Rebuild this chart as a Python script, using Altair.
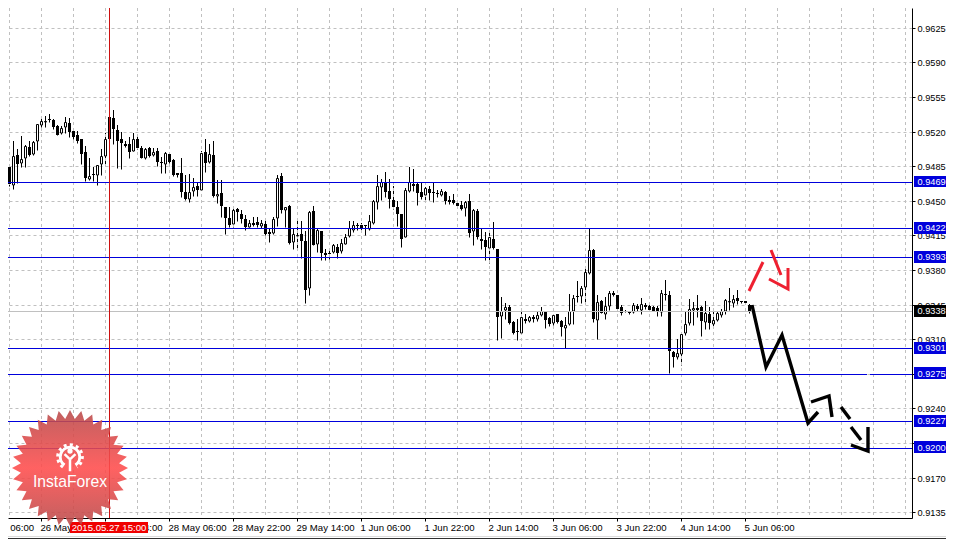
import math
import altair as alt
import pandas as pd

# Candles in pips (price x 10000), hourly bars, bar numbers 2..187
opens = [
 9484,9466,9496,9488,9493,9504,9497,9510,9527,9530,9533,9532,9526,9519,9525,9529,9521,9517,9512,9499,
 9472,9477,9476,9487,9495,9535,9534,9522,9512,9507,9507,9500,9512,9503,9493,9503,9496,9500,9489,9487,
 9497,9491,9478,9478,9459,9452,9460,9465,9461,9499,9489,9496,9455,9458,9444,9433,9427,9442,9437,9432,
 9423,9428,9429,9424,9427,9418,9417,9433,9475,9441,9445,9408,9414,9416,9409,9362,9440,9406,
 9419,9397,9397,9398,9403,9399,9406,9414,9420,9426,9426,9425,9421,9428,9449,9464,9469,9460,9451,9444,
 9437,9413,9460,9467,9467,9459,9456,9462,9459,9458,9456,9459,9451,9451,9448,9446,9443,9450,9419,9440,
 9411,9410,9402,9411,9401,9333,9340,9343,9327,9318,9316,9330,9328,9332,9330,9334,9339,9331,9326,9335,
 9328,9321,9325,9339,9354,9354,9363,9377,9400,9329,9349,9335,9344,9357,9355,9343,9339,9338,9337,9344,
 9340,9345,9344,9343,9342,9337,9356,9355,9297,9292,9295,9316,9326,9340,9342,9343,9327,9335,9325,9329,
 9334,9339,9348,9347,9352,9349,9349,9345]
highs = [
 9484,9510,9502,9516,9506,9510,9510,9528,9533,9536,9538,9533,9527,9526,9535,9534,9521,9521,9512,9505,
 9493,9484,9486,9502,9519,9535,9542,9527,9520,9510,9515,9519,9515,9505,9503,9504,9503,9503,9494,9499,
 9498,9492,9478,9493,9476,9477,9473,9469,9500,9512,9507,9510,9471,9471,9444,9444,9443,9443,9441,9436,
 9431,9434,9434,9431,9430,9421,9434,9476,9478,9444,9446,9421,9432,9430,9419,9440,9445,9421,
 9419,9401,9399,9406,9406,9411,9416,9430,9430,9428,9428,9426,9436,9451,9476,9472,9479,9472,9465,9450,
 9437,9463,9484,9482,9468,9468,9464,9465,9469,9461,9462,9460,9455,9457,9450,9450,9450,9457,9442,9442,
 9422,9418,9417,9429,9401,9353,9347,9345,9328,9330,9338,9335,9333,9334,9337,9343,9339,9332,9334,9335,
 9329,9332,9356,9355,9369,9364,9383,9422,9401,9355,9350,9353,9359,9359,9355,9345,9340,9339,9347,9346,
 9352,9347,9345,9344,9344,9360,9370,9359,9298,9310,9316,9337,9351,9348,9355,9344,9349,9343,9337,9337,
 9341,9351,9362,9355,9360,9349,9349,9346]
lows = [
 9465,9462,9468,9484,9484,9495,9496,9501,9525,9525,9530,9523,9517,9518,9519,9515,9513,9508,9487,9470,
 9471,9470,9466,9476,9486,9513,9507,9483,9482,9504,9493,9500,9502,9493,9492,9494,9495,9485,9478,9478,
 9488,9475,9474,9454,9451,9449,9455,9455,9461,9479,9488,9454,9448,9434,9416,9423,9423,9430,9428,9420,
 9423,9424,9423,9422,9415,9408,9416,9424,9438,9423,9406,9401,9401,9392,9347,9355,9405,9398,
 9390,9390,9391,9397,9392,9397,9406,9413,9418,9420,9419,9415,9420,9427,9442,9451,9454,9443,9442,9424,
 9403,9413,9459,9460,9446,9452,9451,9451,9449,9454,9455,9447,9447,9447,9444,9441,9435,9413,9405,9411,
 9401,9390,9387,9401,9309,9311,9330,9325,9315,9309,9315,9326,9327,9327,9328,9333,9321,9323,9324,9326,
 9313,9301,9324,9325,9348,9347,9348,9376,9327,9310,9336,9330,9340,9354,9341,9334,9337,9335,9336,9339,
 9335,9341,9339,9338,9333,9333,9350,9276,9282,9290,9284,9314,9324,9324,9332,9313,9320,9320,9321,9328,
 9332,9335,9340,9343,9346,9347,9346,9336]
closes = [
 9467,9495,9487,9492,9505,9496,9509,9528,9531,9531,9532,9525,9517,9524,9530,9520,9515,9510,9497,9473,
 9475,9476,9486,9495,9513,9513,9523,9510,9508,9505,9499,9513,9503,9493,9502,9495,9499,9489,9488,9498,
 9489,9476,9476,9459,9452,9459,9464,9461,9498,9488,9497,9455,9457,9445,9433,9426,9441,9439,9432,9423,
 9428,9426,9425,9428,9416,9416,9432,9473,9441,9444,9407,9416,9415,9409,9360,9439,9405,9420,
 9397,9395,9396,9405,9397,9407,9413,9422,9425,9424,9422,9424,9430,9450,9465,9469,9459,9452,9444,9437,
 9411,9461,9469,9465,9458,9454,9463,9458,9458,9457,9460,9450,9449,9448,9445,9442,9449,9417,9441,9413,
 9409,9403,9413,9402,9332,9339,9343,9326,9316,9317,9332,9328,9332,9330,9334,9338,9329,9325,9334,9327,
 9322,9324,9339,9352,9353,9362,9378,9400,9330,9348,9336,9344,9357,9355,9341,9336,9337,9336,9345,9341,
 9346,9343,9340,9339,9337,9357,9355,9298,9292,9296,9315,9325,9341,9342,9340,9328,9336,9326,9329,9336,
 9339,9350,9349,9351,9349,9348,9347,9337]
first_bar = 2

y_ticks = [0.9625,0.9590,0.9555,0.9520,0.9485,0.9450,0.9415,0.9380,0.9345,0.9310,0.9275,0.9240,0.9205,0.9170,0.9135]
level_prices = [0.9469,0.9422,0.9393,0.9301,0.9275,0.9227,0.9200]
current_price = 0.9338
time_ticks = [10,26,42,58,74,90,106,122,138,154,170,186]
time_labels = ["26 May 22:00","27 May 14:00","28 May 06:00","28 May 22:00","29 May 14:00","1 Jun 06:00",
               "1 Jun 22:00","2 Jun 14:00","3 Jun 06:00","3 Jun 22:00","4 Jun 14:00","5 Jun 06:00"]
clipped_label = "26 May 06:00"
clipped_tick = -6
grid_bars = list(range(2, 228, 8))
cross_bar = 27
cross_label = "2015.05.27 15:00"

# Hand-drawn arrows: (bar number, price in pips)
black_paths = [
 [(187.8,9344.6),(191.3,9281.9),(195.2,9314.2),(201.7,9225.2),(204.2,9235.9)],
 [(202.5,9246.1),(206.9,9252.8),(207.8,9231.2)],
 [(210.0,9241.4),(212.2,9229.2)],
 [(212.5,9221.4),(215.0,9208.3)],
 [(212.6,9203.2),(216.8,9196.8),(216.8,9221.1)],
]
red_paths = [
 [(186.9,9359.1),(190.5,9387.8)],
 [(192.4,9400.6),(195.0,9375.3)],
 [(192.1,9371.3),(196.7,9360.8),(196.7,9382.1)],
]

BLUE = "#0000dc"
FONT = "Liberation Sans"

x_scale = alt.Scale(domain=[1.75, 227.75], round=True, nice=False, zero=False, padding=0)
y_scale = alt.Scale(domain=[0.912909, 0.964502], round=True, nice=False, zero=False)

df = pd.DataFrame({
    "bar": range(first_bar, first_bar + len(opens)),
    "open": [v / 10000 for v in opens],
    "high": [v / 10000 for v in highs],
    "low": [v / 10000 for v in lows],
    "close": [v / 10000 for v in closes],
})
df["top"] = df[["open", "close"]].max(axis=1)
df["bottom"] = df[["open", "close"]].min(axis=1)
bull = df[df["close"] >= df["open"]]
bear = df[df["close"] < df["open"]]

X = lambda f="bar:Q": alt.X(f, scale=x_scale, title=None)
Y = lambda f: alt.Y(f, scale=y_scale, title=None)

label_expr = "{" + ",".join(f"'{t}':'{l}'" for t, l in zip(time_ticks, time_labels)) + "}[datum.value]"

wicks = alt.Chart(df).mark_rule(color="black", strokeWidth=1, xOffset=0.5, yOffset=0.5).encode(
    x=alt.X("bar:Q", scale=x_scale, title=None, axis=alt.Axis(
        values=time_ticks, tickCount=30, labelExpr=label_expr, grid=False, title=None, tickSize=3, tickColor="black",
        domainColor="black", labelColor="black", labelFont=FONT, labelFontSize=9.6, labelAlign="left",
        labelPadding=1, labelOverlap=False, labelFlush=False, labelBound=False, labelOffset=-1)),
    y=alt.Y("low:Q", scale=y_scale, title=None, axis=alt.Axis(
        orient="right", values=y_ticks, tickCount=30, format=".4f", grid=True, gridColor="#c0c0c0", gridDash=[3, 3],
        title=None, tickSize=3, tickColor="black", domainColor="black", labelColor="black",
        labelFont=FONT, labelFontSize=9.2, labelPadding=2, labelOverlap=False, labelFlush=False,
        labelBound=False)),
    y2="high:Q",
)

# vertical grid
grid = alt.Chart(pd.DataFrame({"bar": grid_bars})).mark_rule(
    color="#c0c0c0", strokeDash=[3, 3], strokeWidth=1, xOffset=0.5
).encode(x=X(), y=alt.value(0), y2=alt.value(510))

bodies_bear = alt.Chart(bear).mark_bar(size=3, color="black", orient="vertical", xOffset=0.5).encode(
    x=X(), y=Y("top:Q"), y2="bottom:Q")
bodies_bull = alt.Chart(bull).mark_bar(size=2, fill="white", stroke="black", strokeWidth=1,
                                       orient="vertical", xOffset=0.5, yOffset=0.5).encode(
    x=X(), y=Y("top:Q"), y2="bottom:Q")

# current price line
current = alt.Chart(pd.DataFrame({"p": [current_price]})).mark_rule(color="#c0c0c0", yOffset=0.5).encode(
    x=alt.value(0), x2=alt.value(904), y=Y("p:Q"))

# support / resistance levels (the 0.9275 one has a small break near the end)
segs = []
for p in level_prices:
    if p == 0.9275:
        segs += [(p, 1.75, 216.6), (p, 217.3, 227.75)]
    else:
        segs.append((p, 1.75, 227.75))
levels = alt.Chart(pd.DataFrame(segs, columns=["p", "a", "b"])).mark_rule(
    color=BLUE, strokeWidth=1, yOffset=0.5
).encode(x=X("a:Q"), x2="b:Q", y=Y("p:Q"))

cross = alt.Chart(pd.DataFrame({"bar": [cross_bar]})).mark_rule(color="#cc1010", strokeWidth=1, xOffset=0.5).encode(
    x=X(), y=alt.value(0), y2=alt.value(510))


def path_df(paths):
    rows = []
    for g, path in enumerate(paths):
        for n, (b, p) in enumerate(path):
            rows.append({"g": g, "n": n, "bar": b, "p": p / 10000})
    return pd.DataFrame(rows)


def arrows(paths, color, w):
    return alt.Chart(path_df(paths)).mark_line(color=color, strokeWidth=w, strokeCap="butt", strokeJoin="miter").encode(
        x=X(), y=Y("p:Q"), detail="g:N", order="n:Q")


black = arrows(black_paths, "black", 3.4)
red = arrows(red_paths, "#ee2030", 3.0)

# right-hand price badges
badge_rows = [{"p": p, "hi": p + 0.00065, "lo": p - 0.00055, "c": BLUE} for p in level_prices]
badge_rows.append({"p": current_price, "hi": current_price + 0.00065, "lo": current_price - 0.00055, "c": "black"})
badge_df = pd.DataFrame(badge_rows)
badges = alt.Chart(badge_df).mark_rect().encode(
    x=alt.value(906), x2=alt.value(942),
    y=Y("hi:Q"), y2="lo:Q",
    fill=alt.Fill("c:N", scale=None))
badge_text = alt.Chart(badge_df).mark_text(color="white", align="left", baseline="middle",
                                           font=FONT, fontSize=9.2, yOffset=-0.5).encode(
    x=alt.value(909.5), y=Y("p:Q"), text=alt.Text("p:Q", format=".4f"))

one = pd.DataFrame({"a": [0]})

# window edge at the bottom of the picture
edge_light = alt.Chart(one).mark_rule(color="#dcdcdc", strokeWidth=1).encode(
    x=alt.value(0), x2=alt.value(938), y=alt.value(528.5))
edge_dark = alt.Chart(one).mark_rule(color="#303030", strokeWidth=1).encode(
    x=alt.value(0), x2=alt.value(938), y=alt.value(530.5))

# clipped first time label
first_label = alt.Chart(pd.DataFrame({"bar": [clipped_tick], "t": [clipped_label]})).mark_text(
    align="left", baseline="middle", font=FONT, fontSize=9.6, color="black", dx=-1
).encode(x=X(), y=alt.value(519.5), text="t:N")

# crosshair time badge
cross_box = alt.Chart(one).mark_rect(color="#f00000").encode(
    x=alt.value(62), x2=alt.value(140), y=alt.value(514), y2=alt.value(525))
cross_text = alt.Chart(pd.DataFrame({"bar": [cross_bar], "t": [cross_label]})).mark_text(
    align="center", baseline="middle", font=FONT, fontSize=9.6, color="white"
).encode(x=X(), y=alt.value(519.5), text="t:N")

# InstaForex seal
spikes = 32
pts = []
for k in range(spikes * 2):
    r = 1.0 if k % 2 == 0 else 0.85
    a = math.pi * k / spikes
    pts.append(f"{r * math.sin(a):.3f} {-r * math.cos(a):.3f}")
star_path = "M " + " L ".join(pts) + " Z"
gradient = alt.LinearGradient(gradient="linear", x1=0, x2=0, y1=0, y2=1, stops=[
    alt.GradientStop(color="#b84a4a", offset=0),
    alt.GradientStop(color="#ff4c4c", offset=0.5),
    alt.GradientStop(color="#b84a4a", offset=1)])
seal = alt.Chart(one).mark_point(shape=star_path, filled=True, fill=gradient, opacity=0.88, size=13456).encode(
    x=alt.value(62), y=alt.value(460))
ring_path = "M -0.42 0.62 A 0.75 0.75 0 1 1 0.42 0.62"
teeth_path = "M -0.54 0.78 A 0.95 0.95 0 1 1 0.54 0.78"
figure_path = "M -0.42 -0.22 L 0 0.18 L 0.42 -0.22 M 0 0.18 L 0 1.1"
gear = [
    alt.Chart(one).mark_point(shape=ring_path, filled=False, stroke="white", strokeWidth=3, size=676, opacity=1)
    .encode(x=alt.value(62), y=alt.value(449)),
    alt.Chart(one).mark_point(shape=teeth_path, filled=False, stroke="white", strokeWidth=3, size=676,
                              strokeDash=[3, 3.2], opacity=1)
    .encode(x=alt.value(62), y=alt.value(449)),
    alt.Chart(one).mark_point(shape=figure_path, filled=False, stroke="white", strokeWidth=2.5, size=676, opacity=1)
    .encode(x=alt.value(62), y=alt.value(449)),
    alt.Chart(one).mark_point(shape="circle", filled=True, fill="white", size=28, opacity=1)
    .encode(x=alt.value(62), y=alt.value(443)),
]
brand = alt.Chart(pd.DataFrame({"t": ["InstaForex"]})).mark_text(
    font=FONT, fontSize=15.7, color="white", align="center", baseline="middle"
).encode(x=alt.value(62), y=alt.value(473.5), text="t:N")

chart = alt.layer(
    wicks, grid, bodies_bear, bodies_bull, current, levels, cross, black, red,
    badges, badge_text, first_label, cross_box, cross_text, seal, *gear, brand, edge_light, edge_dark,
).properties(
    width=904, height=510,
    padding={"left": 0, "top": 0, "right": 34, "bottom": 21},
    autosize=alt.AutoSizeParams(type="none"),
    background="white",
).configure_view(stroke=None)

chart.save("out.html", embed_options={"renderer": "svg", "actions": False})
